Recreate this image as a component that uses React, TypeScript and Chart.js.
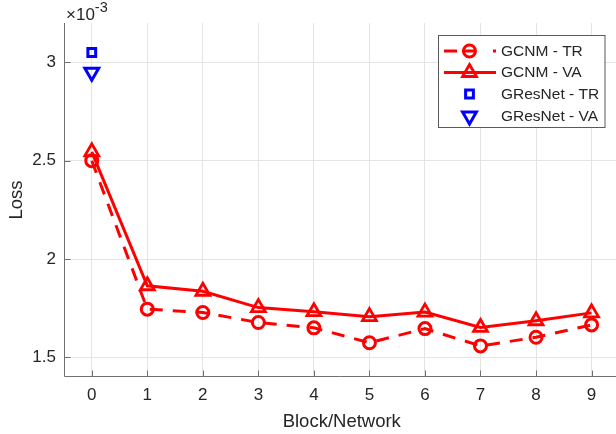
import React, { useEffect, useRef } from 'react';
import { Chart, registerables } from 'chart.js';

Chart.register(...registerables);

// ---- data (loss values in units of 10^-3) ----
const blocks = [0, 1, 2, 3, 4, 5, 6, 7, 8, 9];
const gcnmTR = [2.5, 1.745, 1.728, 1.677, 1.65, 1.574, 1.646, 1.558, 1.602, 1.665];
const gcnmVA = [2.545, 1.864, 1.836, 1.753, 1.732, 1.707, 1.73, 1.652, 1.686, 1.726];
const gresnetBlock = [0];
const gresnetTR = [3.05];
const gresnetVA = [2.95];
const seriesLabels = ['GCNM - TR', 'GCNM - VA', 'GResNet - TR', 'GResNet - VA'];
const xTicks = [0, 1, 2, 3, 4, 5, 6, 7, 8, 9];
const xTickLabels = ['0', '1', '2', '3', '4', '5', '6', '7', '8', '9'];
const yTicks = [1.5, 2, 2.5, 3];
const yTickLabels = ['1.5', '2', '2.5', '3'];
const xTitle = 'Block/Network';
const yTitle = 'Loss';
const exponentBase = '\u00d710';
const exponentPower = '-3';
const xMin = -0.5;
const xMax = 9.44;
const yMin = 1.4;
const yMax = 3.2;

const RED = '#ff0000';
const BLUE = '#0000ff';
const TXT = '#262626';
const FONT = '"Liberation Sans", Arial, Helvetica, sans-serif';

function drawMarker(ctx: CanvasRenderingContext2D, style: string, x: number, y: number, r: number) {
  ctx.beginPath();
  if (style === 'circle') {
    ctx.arc(x, y, r, 0, Math.PI * 2);
  } else if (style === 'rect') {
    const s = Math.SQRT1_2 * r;
    ctx.rect(x - s, y - s, 2 * s, 2 * s);
  } else if (style === 'triangle' || style === 'triangleDown') {
    let a = style === 'triangle' ? 0 : Math.PI;
    ctx.moveTo(x + Math.sin(a) * r, y - Math.cos(a) * r);
    a += (2 * Math.PI) / 3;
    ctx.lineTo(x + Math.sin(a) * r, y - Math.cos(a) * r);
    a += (2 * Math.PI) / 3;
    ctx.lineTo(x + Math.sin(a) * r, y - Math.cos(a) * r);
    ctx.closePath();
  }
  ctx.stroke();
}

const legendSpec = [
  { color: RED, segments: [[444, 457], [462, 474], [493, 496]], style: 'circle', r: 6, bw: 3 },
  { color: RED, segments: [[444, 496]], style: 'triangle', r: 8, bw: 2.8 },
  { color: BLUE, segments: [], style: 'rect', r: 5.5, bw: 3 },
  { color: BLUE, segments: [], style: 'triangleDown', r: 8, bw: 3 },
];
const legendRows = [51, 72.5, 94, 116];

const decorPlugin = {
  id: 'decor',
  beforeDatasetsDraw(chart: any) {
    const { ctx, chartArea: ca, scales } = chart;
    ctx.save();
    ctx.strokeStyle = '#707070';
    ctx.lineWidth = 1;
    ctx.beginPath();
    const L = Math.round(ca.left) + 0.5;
    const B = Math.round(ca.bottom) - 0.5;
    ctx.moveTo(L, ca.top);
    ctx.lineTo(L, B);
    ctx.lineTo(ca.right + 5, B);
    for (const v of xTicks) {
      const x = Math.round(scales.x.getPixelForValue(v)) + 0.5;
      ctx.moveTo(x, B);
      ctx.lineTo(x, B - 6);
    }
    for (const v of yTicks) {
      const y = Math.round(scales.y.getPixelForValue(v)) + 0.5;
      ctx.moveTo(L, y);
      ctx.lineTo(L + 6, y);
    }
    ctx.stroke();
    ctx.restore();
  },
  afterDraw(chart: any) {
    const { ctx, chartArea: ca } = chart;
    ctx.save();
    ctx.fillStyle = TXT;
    // axis titles
    ctx.font = `18.5px ${FONT}`;
    ctx.textAlign = 'center';
    ctx.textBaseline = 'alphabetic';
    ctx.fillText(xTitle, (ca.left + 619.5) / 2, 427);
    ctx.save();
    ctx.translate(22, (ca.top + ca.bottom) / 2);
    ctx.rotate(-Math.PI / 2);
    ctx.fillText(yTitle, 0, 0);
    ctx.restore();
    // exponent
    ctx.textAlign = 'left';
    ctx.font = `17px ${FONT}`;
    ctx.fillText(exponentBase, 66, 20);
    const w = ctx.measureText(exponentBase).width;
    ctx.font = `14.5px ${FONT}`;
    ctx.fillText(exponentPower, 66 + w, 11.5);
    // legend
    ctx.fillStyle = '#ffffff';
    ctx.fillRect(438.5, 35.5, 166.5, 92);
    ctx.strokeStyle = '#5a5a5a';
    ctx.lineWidth = 1;
    ctx.strokeRect(438.5, 35.5, 166.5, 92);
    chart.data.datasets.forEach((ds: any, i: number) => {
      const spec = legendSpec[i];
      const y = legendRows[i];
      ctx.strokeStyle = spec.color;
      ctx.lineWidth = 3;
      ctx.setLineDash([]);
      ctx.beginPath();
      for (const [a, b] of spec.segments) {
        ctx.moveTo(a, y);
        ctx.lineTo(b, y);
      }
      ctx.stroke();
      ctx.lineWidth = spec.bw;
      drawMarker(ctx, spec.style, 469.5, y, spec.r);
      ctx.fillStyle = TXT;
      ctx.font = `15.5px ${FONT}`;
      ctx.textBaseline = 'middle';
      ctx.textAlign = 'left';
      ctx.fillText(ds.label, 501, y + 0.5);
    });
    ctx.restore();
  },
};

export default function App() {
  const ref = useRef<HTMLCanvasElement | null>(null);

  useEffect(() => {
    const canvas = ref.current;
    if (!canvas) return;
    const chart = new Chart(canvas, {
      type: 'line',
      data: {
        datasets: [
          {
            label: seriesLabels[0],
            data: blocks.map((x, i) => ({ x, y: gcnmTR[i] })),
            borderColor: RED,
            borderWidth: 3,
            borderDash: [13, 10],
            pointStyle: 'circle',
            pointRadius: 6,
            pointBorderWidth: 3,
            pointBorderColor: RED,
            pointBackgroundColor: 'rgba(0,0,0,0)',
            tension: 0,
          },
          {
            label: seriesLabels[1],
            data: blocks.map((x, i) => ({ x, y: gcnmVA[i] })),
            borderColor: RED,
            borderWidth: 3,
            pointStyle: 'triangle',
            pointRadius: 8,
            pointBorderWidth: 2.8,
            pointBorderColor: RED,
            pointBackgroundColor: 'rgba(0,0,0,0)',
            tension: 0,
          },
          {
            label: seriesLabels[2],
            data: gresnetBlock.map((x, i) => ({ x, y: gresnetTR[i] })),
            showLine: false,
            borderColor: BLUE,
            pointStyle: 'rect',
            pointRadius: 5.5,
            pointBorderWidth: 3,
            pointBorderColor: BLUE,
            pointBackgroundColor: 'rgba(0,0,0,0)',
          },
          {
            label: seriesLabels[3],
            data: gresnetBlock.map((x, i) => ({ x, y: gresnetVA[i] })),
            showLine: false,
            borderColor: BLUE,
            pointStyle: 'triangle',
            pointRotation: 180,
            pointRadius: 8,
            pointBorderWidth: 3,
            pointBorderColor: BLUE,
            pointBackgroundColor: 'rgba(0,0,0,0)',
          },
        ] as any,
      },
      options: {
        animation: false,
        responsive: false,
        maintainAspectRatio: false,
        layout: { autoPadding: false, padding: { top: 23, left: 0, right: 0, bottom: 0 } },
        plugins: { legend: { display: false }, tooltip: { enabled: false } },
        events: [],
        scales: {
          x: {
            type: 'linear',
            min: xMin,
            max: xMax,
            afterBuildTicks: (s: any) => {
              s.ticks = xTicks.map((v) => ({ value: v }));
            },
            afterFit: (s: any) => {
              s.height = 57;
              s.paddingLeft = 0;
              s.paddingRight = 0;
            },
            grid: { color: '#e4e4e4', drawTicks: false, lineWidth: 1 },
            border: { display: false },
            ticks: {
              padding: 8,
              color: TXT,
              font: { family: FONT, size: 17 },
              maxRotation: 0,
              autoSkip: false,
              callback: (v: any) => {
                const i = xTicks.indexOf(Number(v));
                return i >= 0 ? xTickLabels[i] : '';
              },
            },
          },
          y: {
            type: 'linear',
            min: yMin,
            max: yMax,
            afterBuildTicks: (s: any) => {
              s.ticks = yTicks.map((v) => ({ value: v }));
            },
            afterFit: (s: any) => {
              s.width = 64;
              s.paddingTop = 0;
              s.paddingBottom = 0;
            },
            grid: { color: '#e4e4e4', drawTicks: false, lineWidth: 1 },
            border: { display: false },
            ticks: {
              padding: 8,
              color: TXT,
              font: { family: FONT, size: 17 },
              autoSkip: false,
              callback: (v: any) => {
                const i = yTicks.indexOf(Number(v));
                return i >= 0 ? yTickLabels[i] : '';
              },
            },
          },
        },
      } as any,
      plugins: [decorPlugin],
    });
    return () => chart.destroy();
  }, []);

  return (
    <div style={{ position: 'absolute', left: 0, top: 0, width: 616, height: 434, background: '#fff' }}>
      <canvas ref={ref} width={616} height={434} style={{ display: 'block', width: 616, height: 434 }} />
    </div>
  );
}
